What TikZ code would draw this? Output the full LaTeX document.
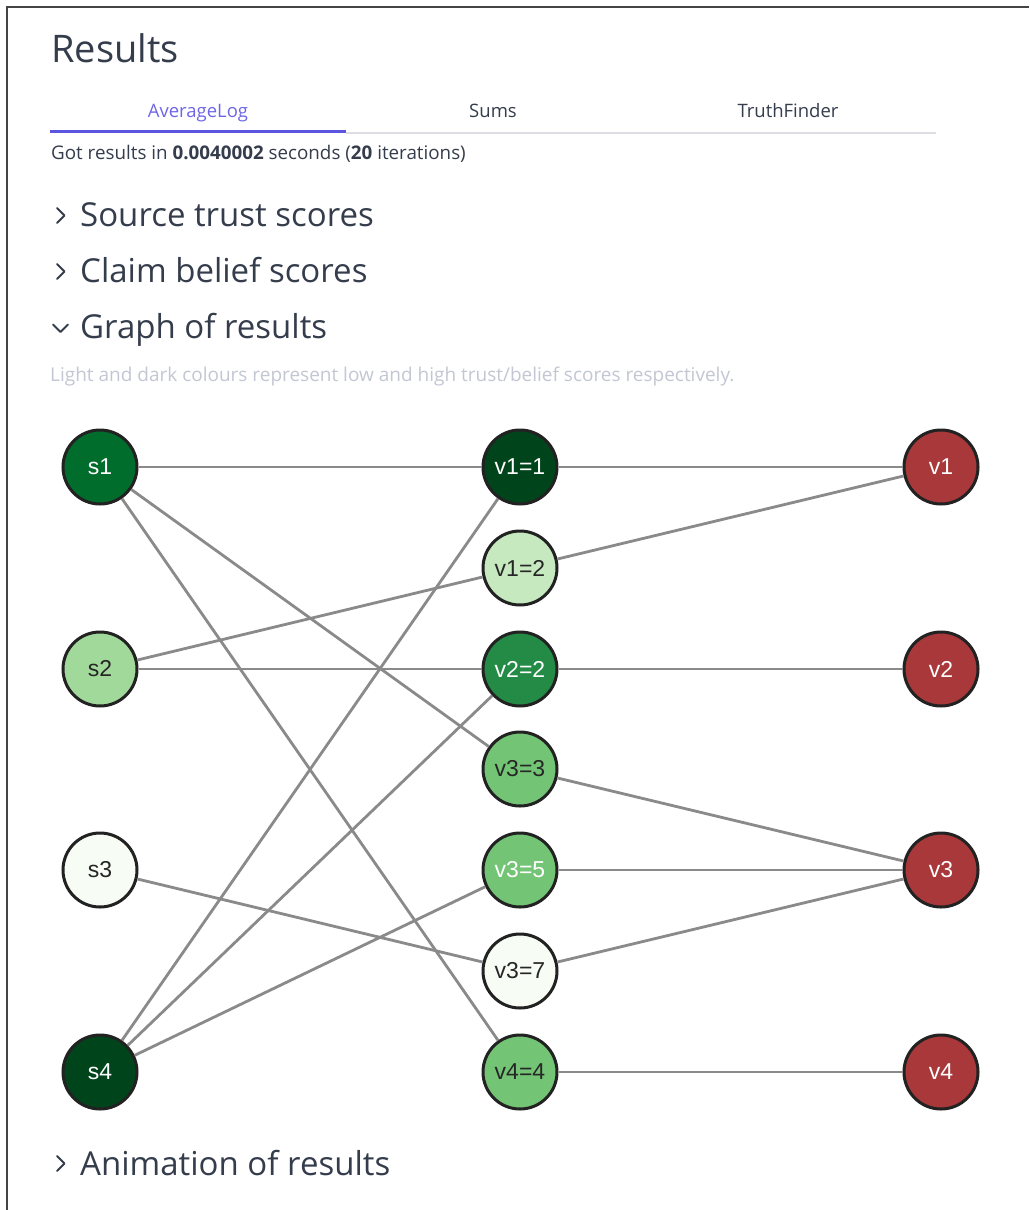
\documentclass[tikz,border=0pt]{standalone}
\usepackage{fontspec}
\setmainfont{Open Sans}
\newfontfamily\nodefont{Liberation Sans}
\definecolor{ink}{HTML}{353D4C}
\definecolor{hint}{HTML}{C3C7D3}
\definecolor{tabaccent}{HTML}{5B55E0}
\definecolor{tabtext}{HTML}{6E66E6}
\definecolor{tabrule}{HTML}{DCDEE4}
\definecolor{frame}{HTML}{454545}
\definecolor{edgegrey}{HTML}{8A8A8A}
\definecolor{ringc}{HTML}{222222}
\definecolor{gA}{HTML}{00441B}
\definecolor{gB}{HTML}{006D2C}
\definecolor{gC}{HTML}{238B45}
\definecolor{gD}{HTML}{74C476}
\definecolor{gE}{HTML}{A1D99B}
\definecolor{gF}{HTML}{C7E9C0}
\definecolor{gG}{HTML}{F7FCF5}
\definecolor{valred}{HTML}{A8383A}
\begin{document}
\begin{tikzpicture}[x=1pt,y=-1pt,
  vertex/.style={circle,draw=ringc,line width=3pt,minimum size=74pt,inner sep=0pt,
    font=\nodefont\fontsize{23}{25}\selectfont},
  darkv/.style={vertex,text=white},
  lightv/.style={vertex,text=black!85},
  link/.style={draw=edgegrey,line width=2.8pt},
  heading/.style={anchor=base west,inner sep=0pt,text=ink,font=\fontsize{33}{37}\selectfont},
  chev/.style={draw=ink,line width=2pt,line cap=round,line join=round},
  tab/.style={anchor=base,inner sep=0pt,font=\fontsize{18.5}{20}\selectfont}]
\useasboundingbox (0,0) rectangle (1029,1210);
\fill[white] (0,0) rectangle (1029,1210);
% page frame
\draw[frame,line width=1.5pt] (1029,7) -- (7,7) -- (7,1210);

% title and tabs
\node[anchor=base west,inner sep=0pt,text=ink,font=\fontsize{38}{42}\selectfont] (title) at (51,62) {Results};
\node[tab,text=tabtext] (tabA) at (198,117) {AverageLog};
\node[tab,text=ink] (tabB) at (493,117) {Sums};
\node[tab,text=ink] (tabC) at (788,117) {TruthFinder};
\draw[tabrule,line width=1.5pt] (346,133) -- (936,133);
\draw[tabaccent,line width=3pt] (50,131) -- (346,131);
\node[anchor=base west,inner sep=0pt,text=ink,font=\fontsize{18.8}{21}\selectfont] (timing) at (51,159)
  {Got results in \textbf{0.0040002} seconds (\textbf{20} iterations)};

% collapsible sections
\draw[chev] (57,208) -- (64.5,215.5) -- (57,223);
\node[heading] (secA) at (80,226) {Source trust scores};
\draw[chev] (57,264) -- (64.5,271.5) -- (57,279);
\node[heading] (secB) at (80,282) {Claim belief scores};
\draw[chev] (53,324.5) -- (60.5,332) -- (68,324.5);
\node[heading] (secC) at (80,338) {Graph of results};
\node[anchor=base west,inner sep=0pt,text=hint,font=\fontsize{19}{21}\selectfont] (hintline) at (50,381)
  {Light and dark colours represent low and high trust/belief scores respectively.};
\draw[chev] (57,1156) -- (64.5,1163.5) -- (57,1171);
\node[heading] (secD) at (80,1175) {Animation of results};

% sources
\node[darkv,fill=gB] (s1) at (100,467) {s1};
\node[lightv,fill=gE] (s2) at (100,669) {s2};
\node[lightv,fill=gG] (s3) at (100,870) {s3};
\node[darkv,fill=gA] (s4) at (100,1072) {s4};
% claims
\node[darkv,fill=gA] (c11) at (520,467) {v1=1};
\node[lightv,fill=gF] (c12) at (520,568) {v1=2};
\node[darkv,fill=gC] (c22) at (520,669) {v2=2};
\node[lightv,fill=gD] (c33) at (520,769) {v3=3};
\node[darkv,fill=gD] (c35) at (520,870) {v3=5};
\node[lightv,fill=gG] (c37) at (520,971) {v3=7};
\node[lightv,fill=gD] (c44) at (520,1072) {v4=4};
% variables
\node[darkv,fill=valred] (v1) at (941,467) {v1};
\node[darkv,fill=valred] (v2) at (941,669) {v2};
\node[darkv,fill=valred] (v3) at (941,870) {v3};
\node[darkv,fill=valred] (v4) at (941,1072) {v4};

% source -> claim
\draw[link] (s1) -- (c11);
\draw[link] (s1) -- (c33);
\draw[link] (s1) -- (c44);
\draw[link] (s2) -- (c12);
\draw[link] (s2) -- (c22);
\draw[link] (s3) -- (c37);
\draw[link] (s4) -- (c11);
\draw[link] (s4) -- (c22);
\draw[link] (s4) -- (c35);
% claim -> variable
\draw[link] (c11) -- (v1);
\draw[link] (c12) -- (v1);
\draw[link] (c22) -- (v2);
\draw[link] (c33) -- (v3);
\draw[link] (c35) -- (v3);
\draw[link] (c37) -- (v3);
\draw[link] (c44) -- (v4);
\end{tikzpicture}
\end{document}
